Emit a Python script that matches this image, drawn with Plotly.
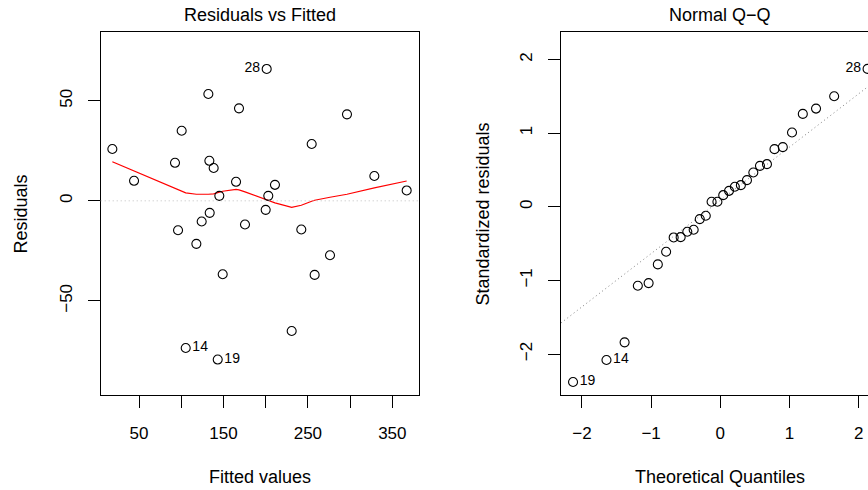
import plotly.graph_objects as go

# ---------------- data ----------------
fitted = [18.4, 44.1, 201.2, 132.1, 168.4, 100.5, 296.3, 254.5, 92.6, 133.3,
          138.4, 164.9, 328.7, 211.0, 145.1, 203.1, 367.0, 200.0, 133.7, 124.2,
          175.5, 96.2, 242.2, 117.9, 276.2, 149.1, 258.0, 230.8, 105.3, 143.2]
residuals = [25.9, 10.0, 65.9, 53.4, 46.2, 35.0, 43.2, 28.4, 19.0, 20.0,
             16.4, 9.5, 12.4, 8.0, 2.5, 2.5, 5.2, -4.5, -6.0, -10.3,
             -11.8, -14.7, -14.3, -21.5, -27.2, -36.7, -37.0, -65.0, -73.5, -79.3]
resid_ids = ["", "", "28", "", "", "", "", "", "", "",
             "", "", "", "", "", "", "", "", "", "",
             "", "", "", "", "", "", "", "", "14", "19"]

smooth_x = [18.4, 44.1, 92.6, 100.5, 105.3, 117.9, 124.2, 132.1, 138.4, 143.2,
            145.1, 149.1, 164.9, 168.4, 175.5, 200.0, 203.1, 211.0, 230.8, 242.2,
            254.5, 258.0, 276.2, 296.3, 328.7, 367.0]
smooth_y = [19.5, 14.9, 6.3, 4.8, 4.0, 3.3, 3.2, 3.3, 3.5, 4.0,
            4.3, 4.8, 5.7, 5.5, 4.5, 0.5, 0.0, -1.0, -3.3, -2.2,
            -0.2, 0.3, 1.8, 3.3, 6.5, 9.9]

theoretical_q = [-2.128, -1.645, -1.383, -1.192, -1.036, -0.903, -0.783, -0.674, -0.573, -0.477,
                 -0.385, -0.297, -0.210, -0.126, -0.042, 0.042, 0.126, 0.210, 0.297, 0.385,
                 0.477, 0.573, 0.674, 0.783, 0.903, 1.036, 1.192, 1.383, 1.645, 2.128]
std_resid = [-2.379, -2.080, -1.841, -1.072, -1.036, -0.782, -0.611, -0.416, -0.412, -0.339,
             -0.312, -0.167, -0.122, 0.068, 0.068, 0.158, 0.217, 0.273, 0.294, 0.362,
             0.466, 0.556, 0.579, 0.783, 0.810, 1.009, 1.262, 1.334, 1.502, 1.873]
qq_ids = ["19", "14", "", "", "", "", "", "", "", "",
          "", "", "", "", "", "", "", "", "", "",
          "", "", "", "", "", "", "", "", "", "28"]
qq_intercept = 0.088
qq_slope = 0.7236

left_xticks = [50, 100, 150, 200, 250, 300, 350]
left_xticktext = ["50", "", "150", "", "250", "", "350"]
left_yticks = [-50, 0, 50]
left_yticktext = ["\u221250", "0", "50"]
right_ticks = [-2, -1, 0, 1, 2]
right_ticktext = ["\u22122", "\u22121", "0", "1", "2"]

# ---------------- style ----------------
W, H = 868, 490
FONT = "Liberation Sans, Arial, Helvetica, sans-serif"
FS = 17
left_x_range = [4.6, 381.6]
left_y_range = [-97.15, 84.2]
right_x_range = [-2.302, 2.134]
right_y_range = [-2.56, 2.37]
box_top, box_bottom = 32.3, 395.3
dom_y = [1 - box_bottom / H, 1 - box_top / H]
left_dom_x = [100.7 / W, 419.0 / W]
right_dom_x = [561.0 / W, 1.0]

fig = go.Figure()

# Residuals vs Fitted
fig.add_trace(go.Scatter(
    x=smooth_x, y=smooth_y, mode="lines",
    line=dict(color="#FF0000", width=1.2), xaxis="x", yaxis="y", hoverinfo="skip"))
fig.add_trace(go.Scatter(
    x=fitted, y=residuals, mode="markers+text", text=resid_ids,
    textposition=["middle left" if t == "28" else "middle right" for t in resid_ids],
    textfont=dict(family=FONT, size=14, color="black"),
    marker=dict(symbol="circle-open", size=9, color="black", line=dict(width=1.1)),
    cliponaxis=False, xaxis="x", yaxis="y"))

# Normal Q-Q
qq_line_y = [qq_intercept + qq_slope * v for v in right_x_range]
fig.add_trace(go.Scatter(
    x=right_x_range, y=qq_line_y, mode="lines",
    line=dict(color="#7F7F7F", width=1, dash="1px,3px"), xaxis="x2", yaxis="y2", hoverinfo="skip"))
fig.add_trace(go.Scatter(
    x=theoretical_q, y=std_resid, mode="markers+text", text=qq_ids,
    textposition=["middle left" if t == "28" else "middle right" for t in qq_ids],
    textfont=dict(family=FONT, size=14, color="black"),
    marker=dict(symbol="circle-open", size=9, color="black", line=dict(width=1.1)),
    cliponaxis=False, xaxis="x2", yaxis="y2"))

axis_common = dict(
    showgrid=False, zeroline=False, showline=True, linecolor="black", linewidth=1,
    ticks="outside", ticklen=12, tickwidth=1, tickcolor="black",
    tickfont=dict(family=FONT, size=FS, color="black"),
)

fig.update_layout(
    width=W, height=H, margin=dict(l=0, r=0, t=0, b=0),
    paper_bgcolor="white", plot_bgcolor="white", showlegend=False,
    font=dict(family=FONT, size=FS, color="black"),
    xaxis=dict(domain=left_dom_x, range=left_x_range, anchor="y", mirror=True,
               tickmode="array", tickvals=left_xticks, ticktext=left_xticktext,
               ticklabelstandoff=10, **axis_common),
    yaxis=dict(domain=dom_y, range=left_y_range, anchor="x", mirror=True,
               tickmode="array", tickvals=left_yticks, ticktext=left_yticktext,
               tickangle=-90, ticklabelstandoff=9, **axis_common),
    xaxis2=dict(domain=right_dom_x, range=right_x_range, anchor="y2", mirror=True,
                tickmode="array", tickvals=right_ticks, ticktext=right_ticktext,
                ticklabelstandoff=10, **axis_common),
    yaxis2=dict(domain=dom_y, range=right_y_range, anchor="x2", mirror=False,
                tickmode="array", tickvals=right_ticks, ticktext=right_ticktext,
                tickangle=-90, ticklabelstandoff=9, **axis_common),
    shapes=[dict(type="line", xref="x domain", x0=0, x1=1, yref="y", y0=0, y1=0,
                 line=dict(color="#BEBEBE", width=1, dash="1px,3px"))],
    annotations=[
        dict(text="Residuals vs Fitted", x=(left_dom_x[0] + left_dom_x[1]) / 2, y=1 - 14.5 / H,
             xref="paper", yref="paper", showarrow=False, xanchor="center", yanchor="middle",
             font=dict(size=18)),
        dict(text="Normal Q\u2212Q", x=720.0 / W, y=1 - 14.5 / H,
             xref="paper", yref="paper", showarrow=False, xanchor="center", yanchor="middle",
             font=dict(size=18)),
        dict(text="Fitted values", x=(left_dom_x[0] + left_dom_x[1]) / 2, y=1 - 477.0 / H,
             xref="paper", yref="paper", showarrow=False, xanchor="center", yanchor="middle",
             font=dict(size=18)),
        dict(text="Theoretical Quantiles", x=720.0 / W, y=1 - 477.0 / H,
             xref="paper", yref="paper", showarrow=False, xanchor="center", yanchor="middle",
             font=dict(size=18)),
        dict(text="Residuals", x=20.7 / W, y=(dom_y[0] + dom_y[1]) / 2, textangle=-90,
             xref="paper", yref="paper", showarrow=False, xanchor="center", yanchor="middle",
             font=dict(size=18)),
        dict(text="Standardized residuals", x=482.7 / W, y=(dom_y[0] + dom_y[1]) / 2, textangle=-90,
             xref="paper", yref="paper", showarrow=False, xanchor="center", yanchor="middle",
             font=dict(size=18)),
    ],
)

fig.write_html("out.html", config={"displayModeBar": False})
